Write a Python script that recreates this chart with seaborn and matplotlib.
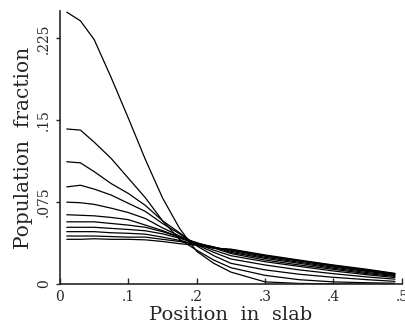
import numpy as np
import pandas as pd
import seaborn as sns
import matplotlib
matplotlib.use("Agg")
import matplotlib.pyplot as plt

position = [0.01, 0.03, 0.05, 0.075, 0.10, 0.125, 0.15, 0.175, 0.20,
            0.225, 0.25, 0.30, 0.35, 0.40, 0.45, 0.49]

# population fraction, one list per time step (top curve first)
c1 = [0.249, 0.241, 0.224, 0.189, 0.152, 0.114, 0.079, 0.051, 0.030,
      0.019, 0.011, 0.002, 0.0006, 0.0002, 0.0, 0.0]
c2 = [0.142, 0.141, 0.130, 0.115, 0.097, 0.079, 0.058, 0.041, 0.031,
      0.022, 0.015, 0.008, 0.004, 0.002, 0.0012, 0.0008]
c3 = [0.112, 0.111, 0.103, 0.092, 0.083, 0.072, 0.058, 0.047, 0.035,
      0.026, 0.019, 0.013, 0.009, 0.0062, 0.004, 0.0025]
c4 = [0.089, 0.0905, 0.087, 0.0815, 0.074, 0.0665, 0.0555, 0.046, 0.036,
      0.029, 0.023, 0.0175, 0.013, 0.0095, 0.0065, 0.0045]
c5 = [0.075, 0.0745, 0.073, 0.0695, 0.0655, 0.060, 0.0515, 0.044, 0.037,
      0.031, 0.026, 0.0205, 0.0162, 0.012, 0.0085, 0.006]
c6 = [0.0635, 0.063, 0.0625, 0.061, 0.059, 0.054, 0.049, 0.043, 0.038,
      0.033, 0.028, 0.022, 0.0175, 0.0135, 0.0095, 0.007]
c7 = [0.057, 0.057, 0.057, 0.0555, 0.054, 0.052, 0.048, 0.043, 0.0375,
      0.034, 0.029, 0.0235, 0.019, 0.0145, 0.0105, 0.0078]
c8 = [0.052, 0.052, 0.052, 0.051, 0.050, 0.0488, 0.046, 0.042, 0.037,
      0.034, 0.030, 0.0245, 0.020, 0.0155, 0.0115, 0.0085]
c9 = [0.048, 0.048, 0.048, 0.047, 0.0465, 0.0457, 0.043, 0.040, 0.0365,
      0.0335, 0.031, 0.0255, 0.021, 0.0163, 0.0122, 0.009]
c10 = [0.044, 0.044, 0.044, 0.0435, 0.043, 0.043, 0.041, 0.039, 0.036,
       0.033, 0.0315, 0.026, 0.0215, 0.017, 0.0128, 0.0095]
c11 = [0.041, 0.041, 0.0415, 0.041, 0.041, 0.0405, 0.039, 0.037, 0.0355,
       0.033, 0.032, 0.0267, 0.022, 0.0175, 0.0135, 0.0098]
curves = [c1, c2, c3, c4, c5, c6, c7, c8, c9, c10, c11]

rows = []
for i, c in enumerate(curves):
    for x, v in zip(position, c):
        rows.append({"position": x, "fraction": v, "step": i})
df = pd.DataFrame(rows)

sns.set_style("ticks")
plt.rcParams["font.family"] = ["DejaVu Serif"]

fig = plt.figure(figsize=(4.05, 3.35), dpi=100)
ax = fig.add_axes([0.148, 0.152, 0.844, 0.815])
sns.lineplot(data=df, x="position", y="fraction", hue="step",
             palette=["black"] * len(curves), linewidth=0.9,
             legend=False, ax=ax)

ax.set_xlim(0, 0.5)
ax.set_ylim(0, 0.25)
ax.set_xticks([0, 0.1, 0.2, 0.3, 0.4, 0.5])
ax.set_xticklabels(["0", ".1", ".2", ".3", ".4", ".5"], fontsize=10)
ax.set_yticks([0, 0.075, 0.15, 0.225])
ax.set_yticklabels(["0", ".075", ".15", ".225"], fontsize=10,
                   rotation=90, va="center")
ax.tick_params(axis="x", direction="in", length=4, width=1, pad=4)
ax.tick_params(axis="y", direction="out", length=3, width=1)
sns.despine(ax=ax)
for s in ["left", "bottom"]:
    ax.spines[s].set_linewidth(1.2)

ax.set_xlabel("Position  in  slab", fontsize=14, labelpad=2)
ax.set_ylabel("Population  fraction", fontsize=14.5, labelpad=3)

fig.savefig("out.png", dpi=100)
